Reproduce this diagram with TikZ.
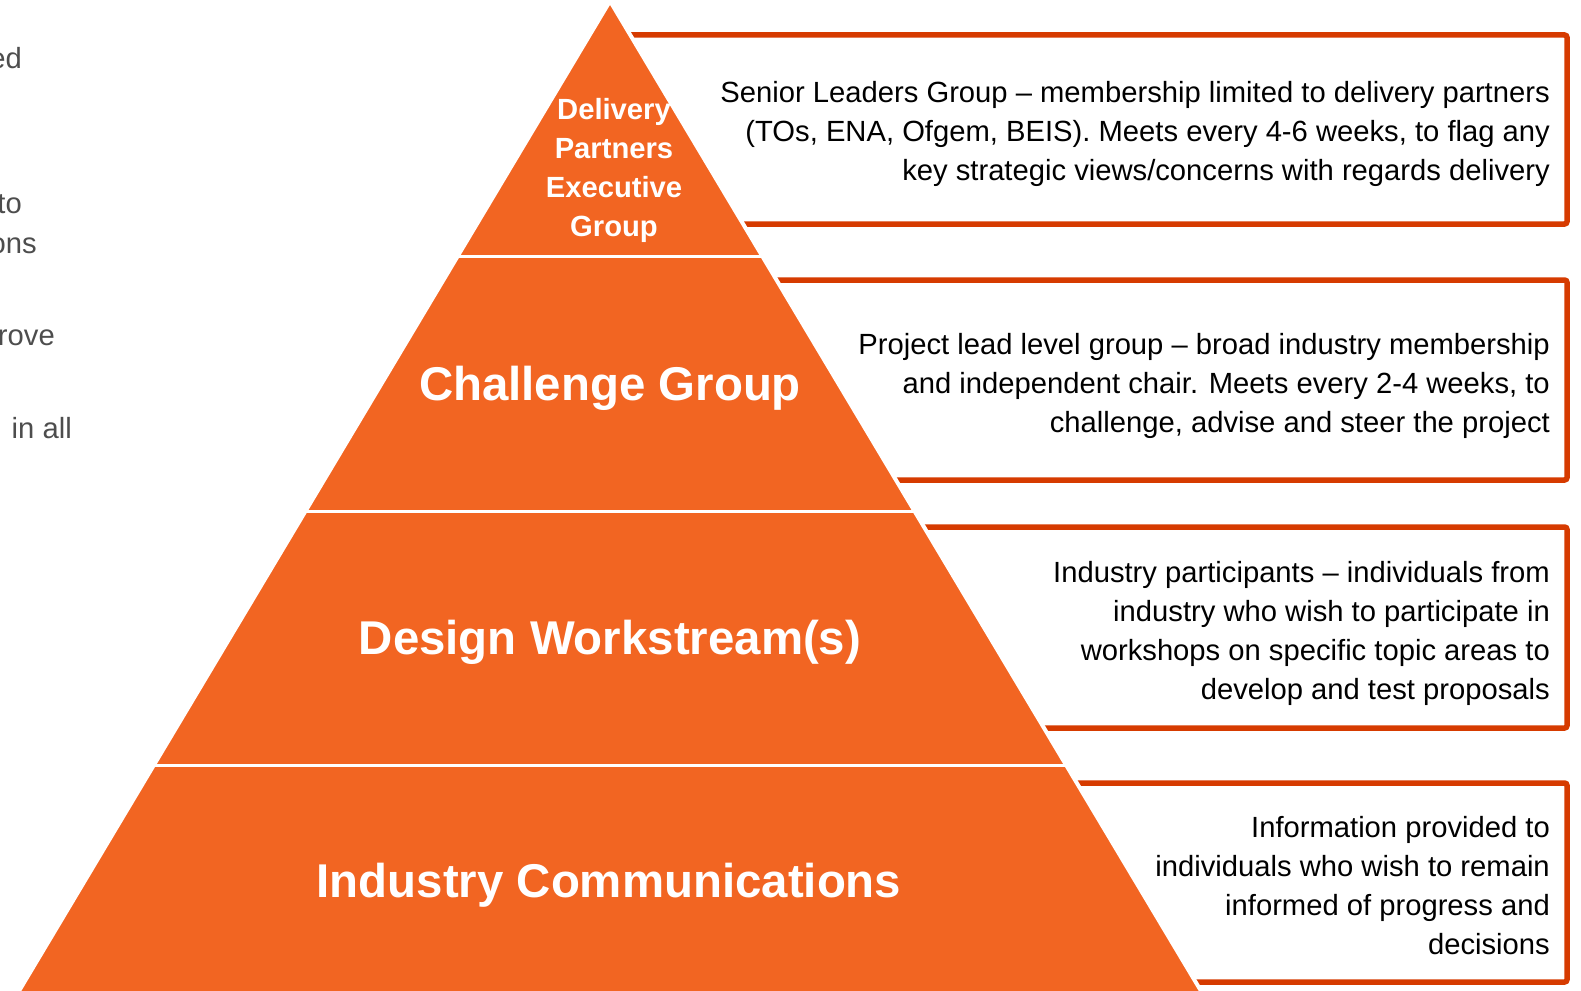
\documentclass[tikz,border=0pt]{standalone}
\usepackage{fontspec}
\setmainfont{Liberation Sans}
\definecolor{pyr}{HTML}{F26522}
\definecolor{boxred}{HTML}{D63B00}
\definecolor{leftgray}{HTML}{4D4D4D}
\begin{document}
\begin{tikzpicture}[x=1pt,y=-1pt,
  descbox/.style={draw=boxred,line width=5.5pt,fill=white,rounded corners=2.5pt},
  desctext/.style={anchor=north east,align=right,inner sep=0pt,text=black,font=\fontsize{29.2}{38.8}\selectfont},
  tierlabel/.style={anchor=base,inner sep=0pt,text=white,font=\bfseries\fontsize{47.4}{56}\selectfont},
  toplabel/.style={anchor=north,align=center,inner sep=0pt,text=white,font=\bfseries\fontsize{29.2}{38.8}\selectfont},
  lefttext/.style={anchor=base east,inner sep=0pt,text=leftgray,font=\fontsize{29.2}{38.8}\selectfont},
  tierline/.style={white,line width=3pt},
  outline/.style={white,line width=4pt,line join=miter}]
\useasboundingbox (0,0) rectangle (1581,990);
% cut-off text on the left
\node[lefttext] (l1) at (22,68) {ed};
\node[lefttext] (l2) at (22,213) {to};
\node[lefttext] (l3) at (37,253) {ons};
\node[lefttext] (l4) at (55,345) {rove};
\node[lefttext] (l5) at (72,438) {in all};
% description boxes (left edges hidden behind the pyramid)
\draw[descbox] (615,35) rectangle (1567,224);
\draw[descbox] (700,280) rectangle (1567,480);
\draw[descbox] (850,527) rectangle (1567,728);
\draw[descbox] (1000,783) rectangle (1567,982);
% pyramid
\fill[pyr] (610,1) -- (1224.3,1030) -- (-4.3,1030) -- cycle;
\draw[outline] (-4.3,1030) -- (610,1) -- (1224.3,1030);
\draw[tierline] (455,256) -- (765,256);
\draw[tierline] (302,511) -- (918,511);
\draw[tierline] (150,765) -- (1070,765);
% pyramid labels
\node[toplabel] (dp) at (614,98.5) {Delivery\\Partners\\Executive\\Group};
\node[tierlabel] (cg) at (610,400) {Challenge Group};
\node[tierlabel] (dw) at (610,654) {Design Workstream(s)};
\node[tierlabel] (ic) at (609,897) {Industry Communications};
% descriptions
\node[desctext] (d1) at (1550,81.5) {Senior Leaders Group – membership limited to delivery partners\\(TOs, ENA, Ofgem, BEIS). Meets every 4-6 weeks, to flag any\\key strategic views/concerns with regards delivery};
\node[desctext] (d2) at (1550,333.5) {Project lead level group – broad industry membership\\and independent chair. Meets every 2-4 weeks, to\\challenge, advise and steer the project};
\node[desctext] (d3) at (1550,561.5) {Industry participants – individuals from\\industry who wish to participate in\\workshops on specific topic areas to\\develop and test proposals};
\node[desctext] (d4) at (1550,816.5) {Information provided to\\individuals who wish to remain\\informed of progress and\\decisions};
\end{tikzpicture}
\end{document}
